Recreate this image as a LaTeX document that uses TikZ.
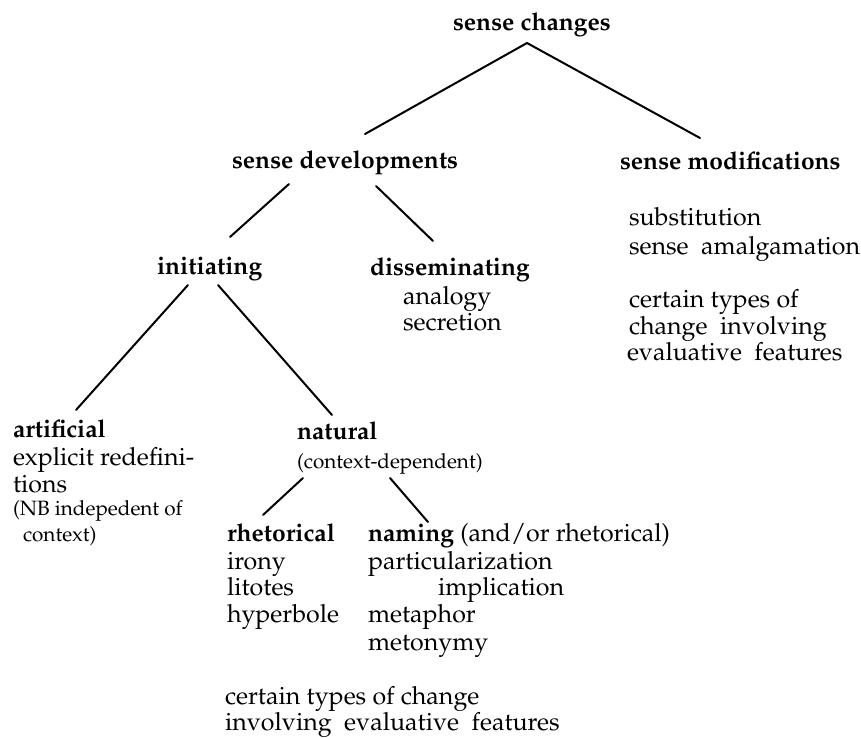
\documentclass[tikz,border=0pt]{standalone}
\usepackage[T1]{fontenc}
\renewcommand{\rmdefault}{ppl}
\begin{document}
\begin{tikzpicture}[x=1pt,y=-1pt,
  txt/.style={anchor=base west,inner sep=0pt,outer sep=0pt,font=\fontsize{25}{27}\selectfont},
  head/.style={anchor=base west,inner sep=0pt,outer sep=0pt,font=\fontsize{24.6}{27}\selectfont\bfseries},
  note/.style={anchor=base west,inner sep=0pt,outer sep=0pt,font=\fontsize{20.7}{23}\selectfont},
  branch/.style={line width=2pt,line cap=round}]
\useasboundingbox (0,0) rectangle (861,738);

% top level
\node[head] (changes) at (453,31) {sense changes};
\node[head] (devel) at (232,168) {sense developments};
\node[head] (modif) at (620,169) {sense modifications};

% sense modifications
\node[txt] (subst) at (629,225) {substitution};
\node[txt] (amalg) at (629,254) {sense\ \ amalgamation};
\node[txt] (certainA) at (629,307) {certain types of};
\node[txt] (changeA) at (629,334) {change\ \ involving};
\node[txt] (evalA) at (627,360) {evaluative\ \ features};

% sense developments
\node[head] (initiating) at (157,274) {initiating};
\node[head] (dissem) at (370,275) {disseminating};
\node[txt] (analogy) at (403,304) {analogy};
\node[txt] (secretion) at (403,330) {secretion};

% initiating
\node[head] (artificial) at (13,437) {artificial};
\node[txt] (explicit) at (13,465) {explicit redefini-};
\node[txt] (tions) at (13,492) {tions};
\node[note] (nb) at (13,515) {(NB indepedent of};
\node[note] (context) at (23,541) {context)};

\node[head] (natural) at (297,439) {natural};
\node[note] (ctxdep) at (297,468) {(context-dependent)};

% natural
\node[head] (rhet) at (227,541) {rhetorical};
\node[txt] (irony) at (227,569) {irony};
\node[txt] (litotes) at (227,595) {litotes};
\node[txt] (hyper) at (227,622) {hyperbole};

\node[txt] (naming) at (368,541) {\fontsize{24.6}{27}\selectfont\bfseries naming\fontsize{25}{27}\selectfont\mdseries\ (and/or rhetorical)};
\node[txt] (partic) at (368,569) {particularization};
\node[txt] (implic) at (438,595) {implication};
\node[txt] (metaphor) at (368,622) {metaphor};
\node[txt] (metonymy) at (368,650) {metonymy};

\node[txt] (certainB) at (225,704) {certain types of change};
\node[txt] (involvB) at (225,730) {involving\ \ evaluative\ \ features};

% branches
\draw[branch] ([shift={(74,12)}]changes.base west) -- ([shift={(133,-34)}]devel.base west);
\draw[branch] ([shift={(74,12)}]changes.base west) -- ([shift={(80,-31)}]modif.base west);
\draw[branch] ([shift={(57,16)}]devel.base west) -- ([shift={(73,-37)}]initiating.base west);
\draw[branch] ([shift={(144,18)}]devel.base west) -- ([shift={(63,-34)}]dissem.base west);
\draw[branch] ([shift={(31,11)}]initiating.base west) -- ([shift={(63,-27)}]artificial.base west);
\draw[branch] ([shift={(61,11)}]initiating.base west) -- ([shift={(35,-24)}]natural.base west);
\draw[branch] ([shift={(6,10)}]ctxdep.base west) -- ([shift={(36,-26)}]rhet.base west);
\draw[branch] ([shift={(93,10)}]ctxdep.base west) -- ([shift={(60,-19)}]naming.base west);
\end{tikzpicture}
\end{document}
